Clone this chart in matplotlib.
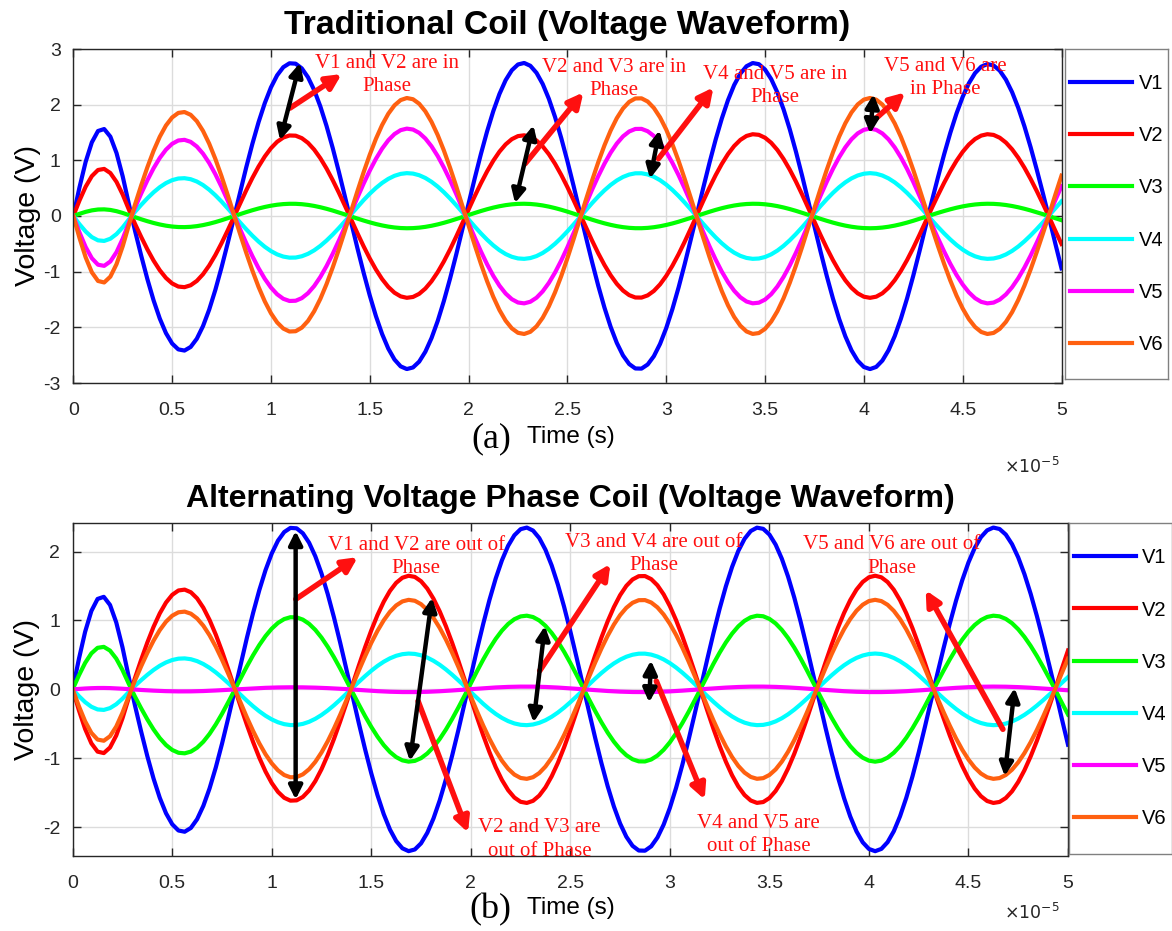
import numpy as np
import matplotlib
matplotlib.use("Agg")
import matplotlib.pyplot as plt

# zero crossings of the waveforms (x 1e-5 s)
crossings = [0.0, 0.294, 0.815, 1.398, 1.985, 2.568, 3.153, 3.737, 4.325, 4.935, 5.52]
t = np.linspace(0, 5, 161)  # sample times (x 1e-5 s)

# peak value of every half-cycle, traditional coil
top_V1 = [1.57, -2.42, 2.75, -2.75, 2.75, -2.75, 2.75, -2.75, 2.73, -2.75]
top_V2 = [0.85, -1.28, 1.45, -1.47, 1.45, -1.47, 1.47, -1.47, 1.47, -1.47]
top_V3 = [0.12, -0.20, 0.22, -0.22, 0.22, -0.22, 0.22, -0.22, 0.22, -0.22]
top_V4 = [-0.45, 0.68, -0.75, 0.77, -0.77, 0.77, -0.77, 0.77, -0.77, 0.77]
top_V5 = [-0.90, 1.37, -1.53, 1.57, -1.57, 1.57, -1.57, 1.57, -1.57, 1.57]
top_V6 = [-1.20, 1.87, -2.08, 2.12, -2.12, 2.12, -2.12, 2.12, -2.12, 2.12]

# peak value of every half-cycle, alternating voltage phase coil
bot_V1 = [1.35, -2.07, 2.35, -2.35, 2.35, -2.35, 2.35, -2.35, 2.35, -2.35]
bot_V2 = [-0.93, 1.45, -1.62, 1.65, -1.65, 1.65, -1.65, 1.65, -1.65, 1.65]
bot_V3 = [0.62, -0.93, 1.05, -1.05, 1.07, -1.05, 1.07, -1.05, 1.07, -1.07]
bot_V4 = [-0.30, 0.45, -0.52, 0.52, -0.52, 0.52, -0.52, 0.52, -0.52, 0.52]
bot_V5 = [0.02, -0.03, 0.03, -0.04, 0.04, -0.04, 0.04, -0.04, 0.04, -0.04]
bot_V6 = [-0.75, 1.13, -1.28, 1.30, -1.30, 1.30, -1.30, 1.30, -1.30, 1.30]

labels = ["V1", "V2", "V3", "V4", "V5", "V6"]
colors = ["#0000FF", "#FF0000", "#00FF00", "#00FFFF", "#FF00FF", "#FF6010"]


def wave(peaks):
    c = np.array(crossings)
    k = np.clip(np.searchsorted(c, t, side="right") - 1, 0, len(peaks) - 1)
    ph = (t - c[k]) / (c[k + 1] - c[k])
    return np.array(peaks)[k] * np.sin(np.pi * ph)


# (text, text pos, red arrow start, red arrow end, black arrow a, black arrow b)
top_notes = [
    ("V1 and V2 are in\nPhase", (1.585, 2.53), (1.097, 1.94), (1.358, 2.55), (1.147, 2.75), (1.046, 1.36)),
    ("V2 and V3 are in\nPhase", (2.737, 2.46), (2.286, 0.94), (2.581, 2.22), (2.328, 1.63), (2.235, 0.23)),
    ("V4 and V5 are in\nPhase", (3.551, 2.34), (2.961, 1.03), (3.239, 2.31), (2.966, 1.54), (2.918, 0.67)),
    ("V5 and V6 are\nin Phase", (4.411, 2.48), (4.057, 1.74), (4.209, 2.22), (4.049, 2.19), (4.032, 1.48)),
]
bot_notes = [
    ("V1 and V2 are out of\nPhase", (1.725, 1.92), (1.121, 1.31), (1.432, 1.92), (1.12, 2.30), (1.12, -1.60)),
    ("V2 and V3 are\nout of Phase", (2.346, -2.18), (1.735, -0.17), (1.986, -2.08), (1.805, 1.33), (1.694, -1.04)),
    ("V3 and V4 are out of\nPhase", (2.92, 1.97), (2.346, 0.27), (2.701, 1.82), (2.372, 0.92), (2.315, -0.48)),
    ("V4 and V5 are\nout of Phase", (3.445, -2.12), (2.932, 0.12), (3.175, -1.60), (2.905, 0.42), (2.896, -0.19)),
    ("V5 and V6 are out of\nPhase", (4.116, 1.93), (4.673, -0.58), (4.285, 1.44), (4.732, 0.02), (4.682, -1.26)),
]

W, H = 1172, 931
fig = plt.figure(figsize=(W / 100, H / 100), dpi=100)
sans = "Liberation Sans"
serif = "Liberation Serif"
axcol = "#262626"


def panel(rect, series, ylim, yticks, title, tsize, letter, notes, leg_rect, lab_y, exp_y):
    ax = fig.add_axes(rect)
    for vals, lab, col in zip(series, labels, colors):
        ax.plot(t, wave(vals), color=col, lw=3, label=lab)
    ax.set_xlim(0, 5)
    ax.set_ylim(*ylim)
    ax.set_xticks(np.arange(0, 5.01, 0.5))
    ax.set_xticklabels(["0", "0.5", "1", "1.5", "2", "2.5", "3", "3.5", "4", "4.5", "5"])
    ax.set_yticks(yticks)
    ax.set_yticklabels([str(v) for v in yticks])
    ax.grid(True, color="#DCDCDC", lw=1)
    ax.tick_params(direction="in", top=True, right=True, length=6, width=1,
                   colors=axcol, labelsize=14)
    ax.tick_params(axis="x", pad=14)
    ax.tick_params(axis="y", pad=9)
    for lab in ax.get_xticklabels() + ax.get_yticklabels():
        lab.set_family(sans)
    for s in ax.spines.values():
        s.set_color(axcol)
        s.set_linewidth(1)
    ax.set_ylabel("Voltage (V)", family=sans, fontsize=20.5, labelpad=2)
    ax.set_title(title, family=sans, fontsize=tsize, fontweight="bold", pad=11)
    # texts under the axis, placed in figure pixels
    fig.text(571 / W, 1 - lab_y / H, "Time (s)", family=sans,
             fontsize=17.5, ha="center", va="center")
    fig.text(511 / W, 1 - (lab_y + 2) / H, letter, family=serif,
             fontsize=26, ha="right", va="center")
    fig.text(1060 / W, 1 - exp_y / H, r"$\times 10^{-5}$", family=sans,
             fontsize=12.5, ha="right", va="center", color=axcol)
    for txt, tp, rs, re, ba, bb in notes:
        ax.annotate("", xy=re, xytext=rs,
                    arrowprops=dict(arrowstyle="-|>", color="#FF1010", lw=4,
                                    mutation_scale=22, shrinkA=0, shrinkB=0))
        ax.annotate("", xy=ba, xytext=bb,
                    arrowprops=dict(arrowstyle="<|-|>", color="black", lw=3.2,
                                    mutation_scale=20, shrinkA=0, shrinkB=0))
        ax.text(tp[0], tp[1], txt, family=serif, fontsize=15, color="#FF1010",
                ha="center", va="center", linespacing=1.3)
    # legend in its own box to the right
    lax = fig.add_axes(leg_rect)
    lax.set_xticks([])
    lax.set_yticks([])
    for s in lax.spines.values():
        s.set_color("#808080")
        s.set_linewidth(1)
    h, l = ax.get_legend_handles_labels()
    lax.legend(h, l, loc="center", frameon=False, prop={"family": sans, "size": 14.5},
               handlelength=3.1, handletextpad=0.3, labelspacing=1.65)
    return ax


panel([73.3 / W, 1 - 383 / H, (1061.5 - 73.3) / W, (383 - 49) / H],
      [top_V1, top_V2, top_V3, top_V4, top_V5, top_V6], (-3, 3), [-3, -2, -1, 0, 1, 2, 3],
      "Traditional Coil (Voltage Waveform)", 24.3, "(a)", top_notes,
      [1065 / W, 1 - 379 / H, 103 / W, (379 - 49) / H], 437, 466)

panel([72.7 / W, 1 - 856 / H, (1068 - 72.7) / W, (856 - 522.7) / H],
      [bot_V1, bot_V2, bot_V3, bot_V4, bot_V5, bot_V6], (-2.42, 2.42), [-2, -1, 0, 1, 2],
      "Alternating Voltage Phase Coil (Voltage Waveform)", 23, "(b)", bot_notes,
      [1069 / W, 1 - 854 / H, 102.5 / W, (854 - 522.7) / H], 908, 912)

fig.savefig("out.png", dpi=100)
